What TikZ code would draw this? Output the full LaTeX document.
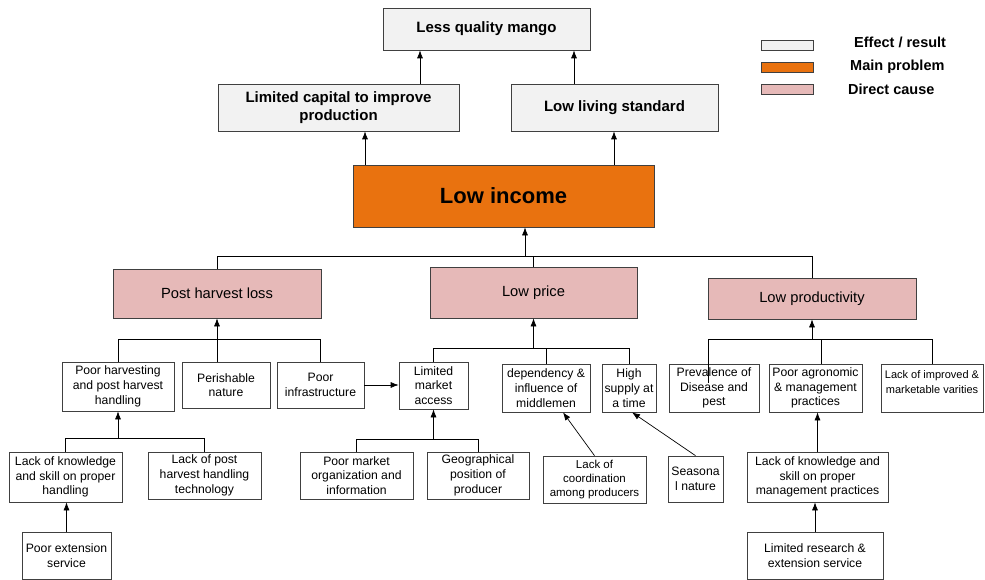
\documentclass[tikz,border=0pt]{standalone}
\usepackage{fontspec}
\setmainfont{Liberation Sans}
\usetikzlibrary{arrows.meta}
\definecolor{effc}{HTML}{F2F2F2}
\definecolor{mainc}{HTML}{E9720F}
\definecolor{dirc}{HTML}{E6B9B8}
\definecolor{bord}{HTML}{404040}
\begin{document}
\begin{tikzpicture}[x=1pt,y=-1pt,
  box/.style={draw=bord, line width=0.7pt, align=center, inner sep=1pt, font=\fontsize{12.2}{14.7}\selectfont},
  sbox/.style={box, fill=white},
  ebox/.style={box, fill=effc, font=\fontsize{15}{17.5}\selectfont\bfseries},
  dbox/.style={box, fill=dirc, font=\fontsize{14.7}{17}\selectfont},
  mbox/.style={box, fill=mainc, font=\fontsize{22}{26}\selectfont\bfseries},
  legbox/.style={draw=bord, line width=0.7pt, minimum width=52pt, minimum height=10pt, inner sep=0pt},
  legtxt/.style={anchor=west, inner sep=0pt, font=\fontsize{14.5}{17}\selectfont\bfseries},
  ln/.style={draw=black, line width=0.7pt},
  arr/.style={ln, -{Latex[length=8pt,width=6pt]}}]
\useasboundingbox (0,0) rectangle (985,580);

% effects and main problem
\node[ebox, minimum width=207pt, minimum height=42pt] (less) at (486.5,29) {Less quality mango};
\node[ebox, minimum width=241pt, minimum height=47pt] (cap) at (338.5,107.5) {Limited capital to improve\\production};
\node[ebox, minimum width=207pt, minimum height=47pt] (liv) at (614.5,107.5) {Low living standard};
\node[mbox, minimum width=301pt, minimum height=62pt] (inc) at (503.5,196) {Low income};

% direct causes
\node[dbox, minimum width=208pt, minimum height=49pt] (phl) at (217,293.5) {Post harvest loss};
\node[dbox, minimum width=207pt, minimum height=51pt] (lpr) at (533.5,292.5) {Low price};
\node[dbox, minimum width=208pt, minimum height=41pt] (lpd) at (812,298.5) {Low productivity};

% second level
\node[sbox, minimum width=112pt, minimum height=49pt] (phh) at (118,386.5) {Poor harvesting\\and post harvest\\handling};
\node[sbox, minimum width=88pt, minimum height=46pt] (per) at (226,385) {Perishable\\nature};
\node[sbox, minimum width=87pt, minimum height=46pt] (inf) at (320.5,385) {Poor\\infrastructure};
\node[sbox, minimum width=69pt, minimum height=47pt] (lma) at (433.5,385.5) {Limited\\market\\access};
\node[sbox, minimum width=88pt, minimum height=48pt] (dep) at (546,388) {dependency \&\\influence of\\middlemen};
\node[sbox, minimum width=54pt, minimum height=48pt] (hsu) at (629,388) {High\\supply at\\a time};
\node[sbox, minimum width=90pt, minimum height=48pt] (prv) at (714,388) {Prevalence of\\Disease and\\pest};
\node[sbox, minimum width=93pt, minimum height=48pt] (agr) at (815.5,388) {Poor agronomic\\\& management\\practices};
\node[sbox, minimum width=102pt, minimum height=48pt, font=\fontsize{11}{14.5}\selectfont] (imp) at (932,388) {Lack of improved \&\\marketable varities\\[-3pt]\mbox{}};

% third level
\node[sbox, minimum width=113pt, minimum height=50pt] (lks) at (65.5,477) {Lack of knowledge\\and skill on proper\\handling};
\node[sbox, minimum width=113pt, minimum height=47pt] (lph) at (204.5,475.5) {Lack of post\\harvest handling\\technology};
\node[sbox, minimum width=89pt, minimum height=47pt] (pes) at (66.5,555.5) {Poor extension\\service};
\node[sbox, minimum width=113pt, minimum height=47pt] (pmo) at (356.5,475.5) {Poor market\\organization and\\information};
\node[sbox, minimum width=102pt, minimum height=47pt] (geo) at (478,475.5) {Geographical\\position of\\producer};
\node[sbox, minimum width=103pt, minimum height=47pt, font=\fontsize{11.5}{14}\selectfont] (coo) at (594.5,479.5) {Lack of\\coordination\\among producers};
\node[sbox, minimum width=55pt, minimum height=46pt] (sea) at (695.5,479) {Seasona\\l nature};
\node[sbox, minimum width=141pt, minimum height=50pt] (lkm) at (817.5,477) {Lack of knowledge and\\skill on proper\\management practices};
\node[sbox, minimum width=136pt, minimum height=47pt] (lrs) at (815,555.5) {Limited research \&\\extension service};

% legend
\node[legbox, fill=effc] (lg1) at (787,45) {};
\node[legbox, fill=mainc] (lg2) at (787,67) {};
\node[legbox, fill=dirc] (lg3) at (787,89) {};
\node[legtxt] (lt1) at (854,42) {Effect / result};
\node[legtxt] (lt2) at (850,67) {Main problem};
\node[legtxt] (lt3) at (848,89) {Direct cause};

% helper coordinates
\coordinate (x365) at (365,0);
\coordinate (x614) at (614,0);
\coordinate (x420) at (420,0);
\coordinate (x574) at (574,0);
\coordinate (x525) at (525,0);
\coordinate (x821) at (821,0);
\coordinate (x563) at (563,0);
\coordinate (x632) at (632,0);
\coordinate (ybus) at (0,256);
\coordinate (y339) at (0,339);
\coordinate (y348) at (0,348);
\coordinate (y438) at (0,438);
\coordinate (y439) at (0,439);
\coordinate (pv) at (708,383);

% effects
\draw[arr] (inc.north -| x365) -- (cap.south -| x365);
\draw[arr] (inc.north -| x614) -- (liv.south -| x614);
\draw[arr] (cap.north -| x420) -- (less.south -| x420);
\draw[arr] (liv.north -| x574) -- (less.south -| x574);

% direct causes bus
\draw[ln] (phl.north) |- (lpd.north |- ybus) -- (lpd.north);
\draw[ln] (lpr.north) -- (lpr.north |- ybus);
\draw[arr] (x525 |- ybus) -- (inc.south -| x525);

% post harvest loss
\draw[ln] (phh.north) |- (inf.north |- y339) -- (inf.north);
\draw[arr] (per.north -| phl.south) -- (phl.south);
\draw[arr] (inf.east) -- (lma.west |- inf.east);

% low price
\draw[ln] (lma.north) |- (hsu.north |- y348) -- (hsu.north);
\draw[ln] (dep.north) -- (dep.north |- y348);
\draw[arr] (lpr.south |- y348) -- (lpr.south);

% low productivity
\draw[ln] (pv) |- (imp.north |- y339) -- (imp.north);
\draw[ln] (agr.north -| x821) -- (x821 |- y339);
\draw[arr] (lpd.south |- y339) -- (lpd.south);

% lower levels
\draw[ln] (lks.north) |- (lph.north |- y438) -- (lph.north);
\draw[arr] (phh.south |- y438) -- (phh.south);
\draw[arr] (pes.north) -- (pes.north |- lks.south);
\draw[ln] (pmo.north) |- (geo.north |- y439) -- (geo.north);
\draw[arr] (lma.south |- y439) -- (lma.south);
\draw[arr] (coo.north) -- (dep.south -| x563);
\draw[arr] (sea.north) -- (hsu.south -| x632);
\draw[arr] (lkm.north) -- (lkm.north |- agr.south);
\draw[arr] (lrs.north) -- (lrs.north |- lkm.south);
\end{tikzpicture}
\end{document}
